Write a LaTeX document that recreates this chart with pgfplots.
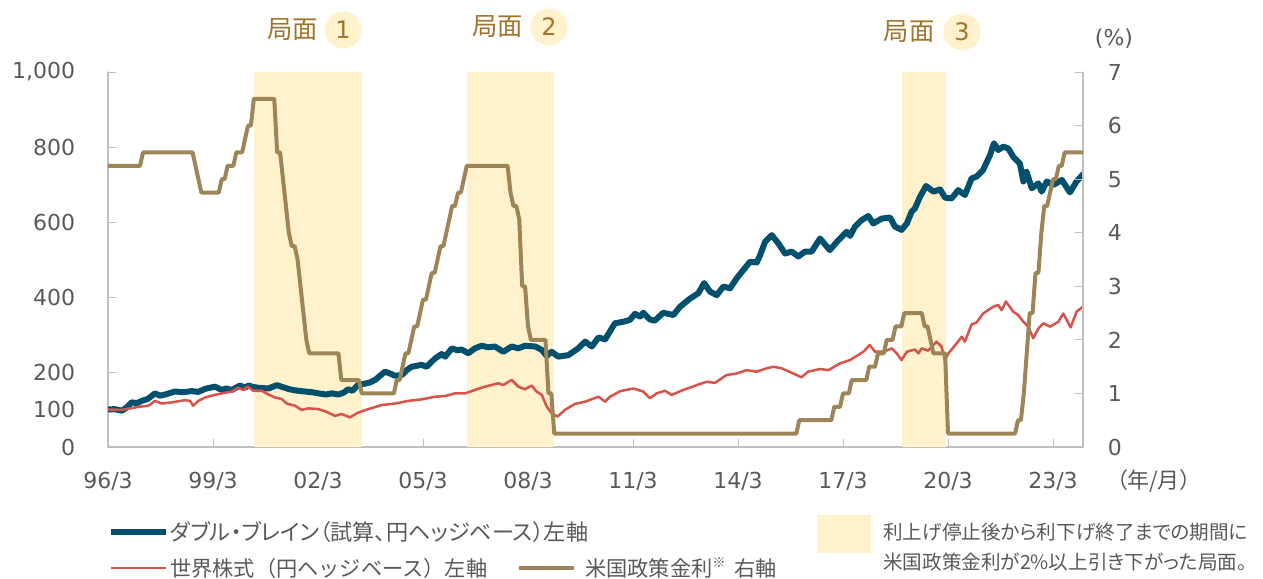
\documentclass[border=0pt]{standalone}
\usepackage{fontspec}
\setmainfont{DejaVu Sans}
\newfontfamily\jp[RawFeature=+palt]{Noto Sans CJK JP}
\newfontfamily\jpf{Noto Sans CJK JP}
\usepackage{pgfplots}
\pgfplotsset{compat=1.18}
\usepackage{pgfplotstable}
\definecolor{db}{HTML}{00506E}
\definecolor{ws}{HTML}{D6544B}
\definecolor{fedc}{HTML}{9D8557}
\definecolor{shadec}{HTML}{FFF2CC}
\definecolor{lab}{HTML}{595959}
\definecolor{axl}{HTML}{BFBFBF}
\definecolor{phase}{HTML}{A0742A}

\pgfplotstableread{
y m v
1996 3 5.25
1997 2 5.25
1997 3 5.5
1998 8 5.5
1998 9 5.25
1998 10 5.0
1998 11 4.75
1999 5 4.75
1999 6 5.0
1999 7 5.0
1999 8 5.25
1999 10 5.25
1999 11 5.5
2000 1 5.5
2000 2 5.75
2000 3 6.0
2000 4 6.0
2000 5 6.5
2000 12 6.5
2001 1 5.5
2001 2 5.5
2001 3 5.0
2001 4 4.5
2001 5 4.0
2001 6 3.75
2001 7 3.75
2001 8 3.5
2001 9 3.0
2001 10 2.5
2001 11 2.0
2001 12 1.75
2002 10 1.75
2002 11 1.25
2003 5 1.25
2003 6 1.0
2004 5 1.0
2004 6 1.25
2004 7 1.25
2004 8 1.5
2004 9 1.75
2004 10 1.75
2004 11 2.0
2004 12 2.25
2005 1 2.25
2005 2 2.5
2005 3 2.75
2005 4 2.75
2005 5 3.0
2005 6 3.25
2005 7 3.25
2005 8 3.5
2005 9 3.75
2005 10 3.75
2005 11 4.0
2005 12 4.25
2006 1 4.5
2006 2 4.5
2006 3 4.75
2006 4 4.75
2006 5 5.0
2006 6 5.25
2007 8 5.25
2007 9 4.75
2007 10 4.5
2007 11 4.5
2007 12 4.25
2008 1 3.0
2008 2 3.0
2008 3 2.25
2008 4 2.0
2008 9 2.0
2008 10 1.0
2008 11 1.0
2008 12 0.25
2015 11 0.25
2015 12 0.5
2016 11 0.5
2016 12 0.75
2017 2 0.75
2017 3 1.0
2017 5 1.0
2017 6 1.25
2017 11 1.25
2017 12 1.5
2018 2 1.5
2018 3 1.75
2018 5 1.75
2018 6 2.0
2018 8 2.0
2018 9 2.25
2018 11 2.25
2018 12 2.5
2019 6 2.5
2019 7 2.25
2019 8 2.25
2019 9 2.0
2019 10 1.75
2020 2 1.75
2020 3 0.25
2022 2 0.25
2022 3 0.5
2022 4 0.5
2022 5 1.0
2022 6 1.75
2022 7 2.5
2022 8 2.5
2022 9 3.25
2022 10 3.25
2022 11 4.0
2022 12 4.5
2023 1 4.5
2023 2 4.75
2023 3 5.0
2023 4 5.0
2023 5 5.25
2023 6 5.25
2023 7 5.5
2024 1 5.5
}\fedtable

\begin{document}
\begin{tikzpicture}[x=0.75pt,y=0.75pt]
\path[use as bounding box] (0,0) rectangle (1263,-578);
\begin{axis}[
  at={(81pt,-335.25pt)}, anchor=south west,
  width=731.25pt, height=281.25pt, scale only axis,
  xmin=1996.1667, xmax=2024.0238, ymin=0, ymax=1000,
  axis x line*=bottom, axis y line*=left,
  axis line style={axl, line width=1pt},
  tick align=inside, major tick length=6pt,
  tick style={axl, line width=0.75pt},
  xtick={1996.1667,1999.1667,2002.1667,2005.1667,2008.1667,2011.1667,2014.1667,2017.1667,2020.1667,2023.1667},
  xticklabels={96/3,99/3,02/3,05/3,08/3,11/3,14/3,17/3,20/3,23/3},
  ytick={0,100,200,400,600,800,1000},
  yticklabels={0,100,200,400,600,800,{1,000}},
  tick label style={font=\fontsize{16.5}{18}\selectfont, text=lab, inner sep=0pt},
  xticklabel shift=18.5pt, yticklabel shift=24.5pt,
  line join=round, line cap=round,
]
\addplot[fill=shadec, draw=none] coordinates {(2000.333,1000) (2003.417,1000)} \closedcycle;
\addplot[fill=shadec, draw=none] coordinates {(2006.417,1000) (2008.917,1000)} \closedcycle;
\addplot[fill=shadec, draw=none] coordinates {(2018.85,1000) (2020.10,1000)} \closedcycle;
\addplot[db, line width=4.5pt] coordinates {
(1996.17,100)(1996.35,101)(1996.56,97)(1996.70,105)(1996.84,119)(1997.0,117)(1997.13,123)(1997.3,128)(1997.51,143)(1997.65,137)(1997.80,140)(1998.08,148)(1998.3,146)(1998.56,149)(1998.75,147)(1998.94,155)(1999.22,161)(1999.42,152)(1999.55,156)(1999.70,152)(1999.94,164)(2000.08,158)(2000.18,164)(2000.32,160)(2000.46,158)(2000.75,156)(2000.99,165)(2001.15,160)(2001.32,155)(2001.45,152)(2001.60,150)(2001.79,148)(2002.0,146)(2002.18,143)(2002.4,140)(2002.56,143)(2002.75,140)(2002.9,145)(2003.03,154)(2003.15,150)(2003.3,165)(2003.46,168)(2003.65,172)(2003.80,179)(2004.08,201)(2004.25,195)(2004.37,190)(2004.56,192)(2004.70,205)(2004.84,214)(2005.13,219)(2005.27,214)(2005.51,236)(2005.70,248)(2005.80,241)(2005.99,263)(2006.15,258)(2006.27,260)(2006.46,250)(2006.65,263)(2006.84,270)(2007.03,266)(2007.22,268)(2007.46,254)(2007.70,268)(2007.89,263)(2008.08,270)(2008.37,268)(2008.56,259)(2008.70,243)(2008.84,254)(2009.03,241)(2009.32,245)(2009.60,263)(2009.80,281)(2009.99,268)(2010.18,292)(2010.37,287)(2010.65,330)(2010.89,334)(2011.08,339)(2011.22,355)(2011.37,348)(2011.46,358)(2011.65,340)(2011.79,337)(2012.03,358)(2012.32,352)(2012.51,374)(2012.80,396)(2013.03,410)(2013.20,437)(2013.37,414)(2013.56,405)(2013.75,428)(2013.94,423)(2014.13,450)(2014.32,472)(2014.51,494)(2014.70,492)(2014.80,512)(2014.94,547)(2015.13,565)(2015.32,543)(2015.51,516)(2015.70,521)(2015.89,508)(2016.08,521)(2016.27,521)(2016.51,556)(2016.79,525)(2016.99,547)(2017.27,574)(2017.37,563)(2017.51,588)(2017.70,605)(2017.89,616)(2018.03,596)(2018.27,609)(2018.51,612)(2018.65,588)(2018.84,579)(2018.99,596)(2019.13,628)(2019.22,636)(2019.37,668)(2019.54,696)(2019.75,681)(2019.94,687)(2020.08,665)(2020.27,663)(2020.46,685)(2020.65,672)(2020.84,716)(2020.98,721)(2021.17,739)(2021.37,779)(2021.48,810)(2021.60,792)(2021.75,801)(2021.89,796)(2022.03,774)(2022.22,756)(2022.32,708)(2022.41,734)(2022.56,690)(2022.75,703)(2022.84,681)(2022.99,708)(2023.18,699)(2023.42,712)(2023.65,679)(2023.84,708)(2024.02,727)
};
\addplot[ws, line width=1.9pt] coordinates {
(1996.17,100)(1996.56,99)(1997.03,107)(1997.32,110)(1997.51,123)(1997.70,116)(1997.99,119)(1998.37,125)(1998.51,123)(1998.60,110)(1998.75,123)(1998.94,132)(1999.22,139)(1999.42,143)(1999.70,148)(1999.89,158)(2000.03,152)(2000.16,161)(2000.32,150)(2000.56,150)(2000.75,140)(2000.94,132)(2001.13,128)(2001.27,116)(2001.51,110)(2001.70,99)(2001.89,103)(2002.18,101)(2002.41,94)(2002.65,83)(2002.84,88)(2003.08,79)(2003.32,92)(2003.60,101)(2003.99,112)(2004.37,116)(2004.75,123)(2005.13,127)(2005.51,134)(2005.80,136)(2006.08,143)(2006.37,143)(2006.65,152)(2006.94,161)(2007.32,170)(2007.46,165)(2007.70,179)(2007.89,161)(2008.08,154)(2008.27,164)(2008.41,148)(2008.56,139)(2008.70,108)(2008.84,90)(2009.01,81)(2009.22,99)(2009.51,115)(2009.80,121)(2010.18,134)(2010.37,121)(2010.51,134)(2010.80,149)(2011.18,156)(2011.46,148)(2011.65,130)(2011.84,143)(2012.08,150)(2012.27,139)(2012.60,152)(2012.99,165)(2013.27,174)(2013.51,171)(2013.84,192)(2014.13,196)(2014.41,205)(2014.70,201)(2014.99,210)(2015.18,214)(2015.41,210)(2015.70,198)(2015.98,186)(2016.17,201)(2016.51,208)(2016.75,205)(2017.08,223)(2017.37,232)(2017.75,254)(2017.93,272)(2018.08,254)(2018.32,254)(2018.56,263)(2018.70,250)(2018.84,232)(2018.99,254)(2019.22,260)(2019.32,250)(2019.42,263)(2019.60,257)(2019.84,281)(2019.98,268)(2020.08,232)(2020.18,250)(2020.41,276)(2020.56,294)(2020.65,281)(2020.84,327)(2020.98,332)(2021.17,356)(2021.46,374)(2021.60,379)(2021.70,365)(2021.82,388)(2022.03,361)(2022.17,352)(2022.32,334)(2022.46,321)(2022.60,290)(2022.75,316)(2022.89,330)(2023.08,321)(2023.32,334)(2023.46,356)(2023.67,319)(2023.84,361)(2024.02,374)
};
\end{axis}
\begin{axis}[
  at={(81pt,-335.25pt)}, anchor=south west,
  width=731.25pt, height=281.25pt, scale only axis,
  xmin=1996.1667, xmax=2024.0238, ymin=0, ymax=7,
  axis x line=none, axis y line*=right,
  axis line style={axl, line width=1pt},
  tick align=inside, major tick length=6pt,
  tick style={axl, line width=0.75pt},
  xtick=\empty,
  ytick={0,1,2,3,4,5,6,7},
  yticklabels={0,1,2,3,4,5,6,7},
  tick label style={font=\fontsize{16.5}{18}\selectfont, text=lab, inner sep=0pt},
  yticklabel shift=18.5pt,
  line join=round, line cap=round,
]
\addplot[fedc, line width=3pt] table[x expr=\thisrow{y}+(\thisrow{m}-1)/12, y=v] {\fedtable};
\end{axis}
% phase labels
\foreach \tx/\cx/\cy/\n in {292.5/343/30/1, 497.5/549/27/2, 909/962/32/3}{
  \node[text=phase, font=\jp\fontsize{19}{20}\selectfont, inner sep=0pt] at (\tx,-\cy) {局面};
  \fill[fill=shadec] (\cx,-\cy) circle (18.5);
  \node[text=phase, font=\fontsize{18}{20}\selectfont, inner sep=0pt] at (\cx,-\cy) {\n};
}
\node[text=lab, font=\fontsize{16.5}{18}\selectfont, inner sep=0pt] at (1114,-39) {(\%)};
\node[text=lab, font=\jp\fontsize{16.5}{18}\selectfont, inner sep=0pt, anchor=west] at (1116,-481) {（年/月）};
% legend
\draw[db, line width=4.5pt] (111,-532) -- (166,-532);
\node[text=lab, font=\jp\fontsize{16.6}{18}\selectfont, inner sep=0pt, anchor=west] at (170,-532) {ダブル・ブレイン（試算、円ヘッジベース）左軸};
\draw[ws, line width=1.9pt] (111,-568) -- (166,-568);
\node[text=lab, font=\jpf\fontsize{15.9}{18}\selectfont, inner sep=0pt, anchor=west] at (170,-568) {世界株式（円ヘッジベース）左軸};
\draw[fedc, line width=3pt] (519,-568) -- (574,-568);
\node[text=lab, font=\jpf\fontsize{15.9}{18}\selectfont, inner sep=0pt, anchor=west] at (585,-568) {米国政策金利\raisebox{0.45em}{\fontsize{10}{11}\selectfont ※}\hspace{0.4em}右軸};
\fill[fill=shadec] (817,-515) rectangle (871,-553);
\node[text=lab, font=\jp\fontsize{14.7}{17}\selectfont, inner sep=0pt, anchor=west] at (883,-532) {利上げ停止後から利下げ終了までの期間に};
\node[text=lab, font=\jp\fontsize{14.7}{17}\selectfont, inner sep=0pt, anchor=west] at (883,-562) {米国政策金利が2\%以上引き下がった局面。};
\end{tikzpicture}
\end{document}
